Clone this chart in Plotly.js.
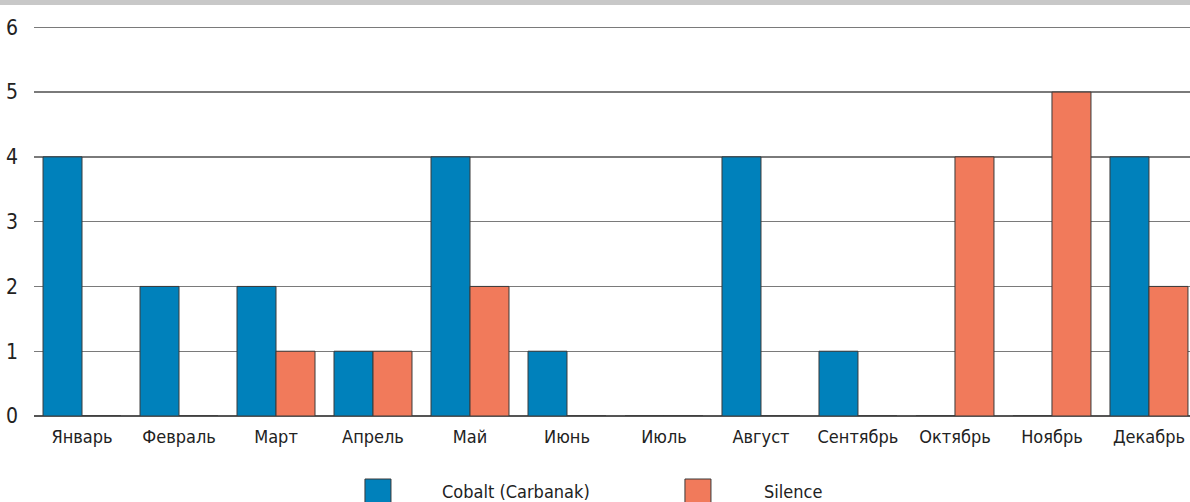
<!DOCTYPE html>
<html>
<head>
<meta charset="utf-8">
<script src="https://cdn.plot.ly/plotly-3.0.1.min.js"></script>
<style>html,body{margin:0;padding:0;background:#fff;}#chart{width:1190px;height:502px;}</style>
</head>
<body>
<div id="chart"></div>
<script>
const months = ["Январь","Февраль","Март","Апрель","Май","Июнь","Июль","Август","Сентябрь","Октябрь","Ноябрь","Декабрь"];
const seriesNames = ["Cobalt (Carbanak)", "Silence"];
const cobalt = [4, 2, 2, 1, 4, 1, 0, 4, 1, 0, 0, 4];
const silence = [0, 0, 1, 1, 2, 0, 0, 0, 0, 4, 5, 2];
const colors = ["#0081bb", "#f17a5b"];

const FONT = "'DejaVu Sans Condensed', 'Liberation Sans', sans-serif";
const mk = (name, y, c) => ({
  type: "bar", name: name, x: months, y: y,
  marker: {color: c, line: {color: "#3a3a3a", width: 1}},
  showlegend: false, hoverinfo: "x+y+name"
});
const data = [mk(seriesNames[0], cobalt, colors[0]), mk(seriesNames[1], silence, colors[1])];

// legend drawn manually (large square swatches)
const H = 390;
const py = p => (416 - p) / H;   // pixel row -> paper y
const legX = [0.2863, 0.5631];
const legTextX = [0.3512, 0.6298];
const shapes = [
  {type: "rect", xref: "paper", yref: "paper", x0: -0.03, x1: 1.01, y0: py(5), y1: py(-2),
   fillcolor: "#c8c8c8", line: {width: 0}, layer: "above"}
];
const annotations = [];
seriesNames.forEach((n, i) => {
  shapes.push({type: "rect", xref: "paper", yref: "paper", x0: legX[i], x1: legX[i] + 0.0225,
    y0: py(507), y1: py(479), fillcolor: colors[i], line: {color: "#3a3a3a", width: 1}});
  annotations.push({xref: "paper", yref: "paper", x: legTextX[i], y: py(491), xanchor: "left", yanchor: "middle",
    text: n, showarrow: false, font: {family: FONT, size: 18, color: "#222"}});
});

const layout = {
  width: 1190, height: 502,
  margin: {l: 34, r: 0, t: 26, b: 86},
  paper_bgcolor: "#fff", plot_bgcolor: "#fff",
  barmode: "group", bargap: 0.196, bargroupgap: 0,
  xaxis: {
    type: "category", range: [-0.495, 11.423],
    showgrid: false, zeroline: false, showline: false, ticks: "",
    tickfont: {family: FONT, size: 18, color: "#222"}, ticklabelstandoff: 8
  },
  yaxis: {
    range: [0, 6.02], dtick: 1, tick0: 0,
    showgrid: true, gridcolor: "#7a7a7a", gridwidth: 1.3,
    zeroline: true, zerolinecolor: "#555", zerolinewidth: 1.5,
    showline: false, ticks: "",
    tickfont: {family: FONT, size: 21, color: "#222"}, ticklabelstandoff: 15
  },
  shapes: shapes,
  annotations: annotations
};
Plotly.newPlot("chart", data, layout, {displayModeBar: false, staticPlot: true});
</script>
</body>
</html>
